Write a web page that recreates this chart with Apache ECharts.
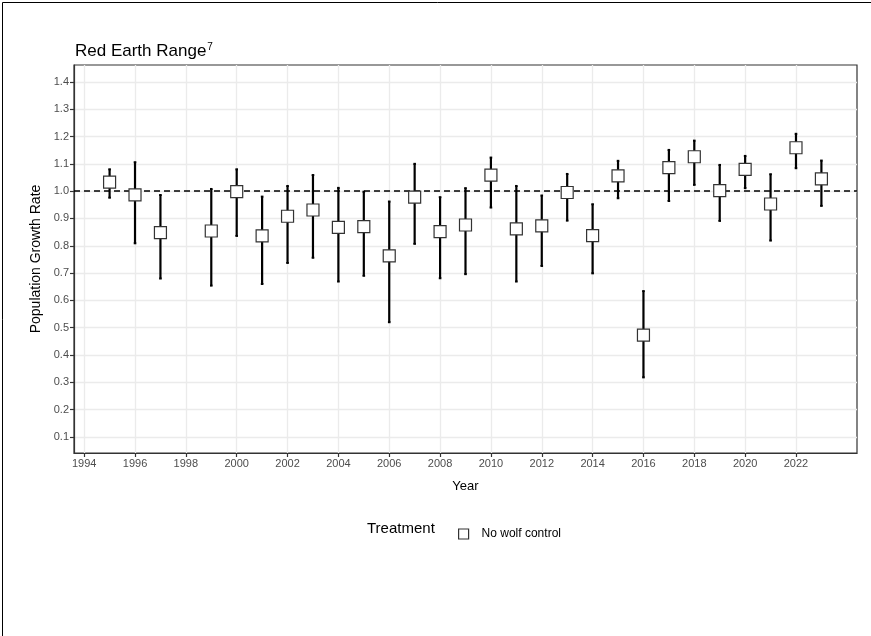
<!DOCTYPE html>
<html>
<head>
<meta charset="utf-8">
<script src="https://cdn.jsdelivr.net/npm/echarts@6/dist/echarts.min.js"></script>
<style>
  html, body { margin: 0; padding: 0; background: #fff; }
  #chart { width: 871px; height: 636px; }
</style>
</head>
<body>
<div id="chart"></div>
<script>
// Annual population growth rate (lambda) with confidence interval, Red Earth range
const years = [1995, 1996, 1997, 1999, 2000, 2001, 2002, 2003, 2004, 2005, 2006, 2007, 2008, 2009,
               2010, 2011, 2012, 2013, 2014, 2015, 2016, 2017, 2018, 2019, 2020, 2021, 2022, 2023];
const growthRate = [1.033, 0.986, 0.848, 0.854, 0.998, 0.836, 0.908, 0.931, 0.867, 0.870, 0.763, 0.978, 0.852, 0.876,
                    1.059, 0.862, 0.873, 0.995, 0.837, 1.056, 0.473, 1.086, 1.126, 1.002, 1.080, 0.953, 1.159, 1.045];
const lowerCI = [0.976, 0.809, 0.680, 0.654, 0.836, 0.660, 0.737, 0.756, 0.669, 0.690, 0.520, 0.807, 0.681, 0.696,
                 0.940, 0.669, 0.726, 0.892, 0.699, 0.974, 0.318, 0.964, 1.023, 0.891, 1.011, 0.819, 1.084, 0.946];
const upperCI = [1.080, 1.106, 0.986, 1.008, 1.080, 0.980, 1.019, 1.059, 1.012, 0.998, 0.962, 1.100, 0.978, 1.011,
                 1.123, 1.019, 0.984, 1.063, 0.952, 1.111, 0.634, 1.151, 1.185, 1.096, 1.129, 1.062, 1.210, 1.112];
const xTicks = [1994, 1996, 1998, 2000, 2002, 2004, 2006, 2008, 2010, 2012, 2014, 2016, 2018, 2020, 2022];
const yTicks = [0.1, 0.2, 0.3, 0.4, 0.5, 0.6, 0.7, 0.8, 0.9, 1.0, 1.1, 1.2, 1.3, 1.4];
const seriesName = 'No wolf control';
const referenceRate = 1.0;

const pointData = years.map((y, i) => [y, growthRate[i]]);
const barData = years.map((y, i) => [y, lowerCI[i], upperCI[i]]);

const chart = echarts.init(document.getElementById('chart'), null, { renderer: 'canvas' });

const font = 'Liberation Sans, Arial, sans-serif';

chart.setOption({
  animation: false,
  backgroundColor: '#fff',
  textStyle: { fontFamily: font },
  title: {
    text: '{t|Red Earth Range}{s|7}',
    left: 70,
    top: 37,
    textStyle: {
      rich: {
        t: { fontSize: 17, fontWeight: 'normal', color: '#000', fontFamily: font },
        s: { fontSize: 10, fontWeight: 'normal', color: '#000', fontFamily: font, verticalAlign: 'top', padding: [0, 0, 8, 1] }
      }
    }
  },
  grid: {
    left: 74, right: 14, top: 65, bottom: 183,
    show: true, borderColor: '#333', borderWidth: 1.2, backgroundColor: '#fff'
  },
  legend: {
    data: [{ name: seriesName, icon: 'rect' }],
    left: 453, top: 523,
    itemWidth: 10, itemHeight: 10, itemGap: 10,
    textStyle: { fontSize: 12, color: '#000', fontFamily: font, padding: [0, 0, 0, 8] },
    itemStyle: { color: '#fff', borderColor: '#333', borderWidth: 1.2 }
  },
  graphic: [
    {
      type: 'text', left: 367, top: 521,
      style: { text: 'Treatment', fontSize: 15, fill: '#000', fontFamily: font }
    },
    {
      type: 'rect', left: 0, top: 0, silent: true,
      shape: { x: 0.5, y: 0.5, width: 870, height: 635 },
      style: { fill: 'none', stroke: '#000', lineWidth: 1 }
    }
  ],
  xAxis: {
    type: 'value',
    min: 1993.6, max: 2024.4,
    name: 'Year', nameLocation: 'middle', nameGap: 27,
    nameTextStyle: { fontSize: 13, color: '#000', fontFamily: font },
    axisLine: { show: true, lineStyle: { color: '#333', width: 1.2 } },
    axisTick: { show: true, length: 4, lineStyle: { color: '#333', width: 1.2 }, customValues: xTicks },
    axisLabel: { fontSize: 11, color: '#4d4d4d', margin: 5, customValues: xTicks, formatter: v => String(v) },
    splitLine: { show: true, lineStyle: { color: '#ebebeb', width: 1.3 } }
  },
  yAxis: {
    type: 'value',
    min: 0.041, max: 1.462,
    name: 'Population Growth Rate', nameLocation: 'middle', nameGap: 31,
    nameTextStyle: { fontSize: 14, color: '#000', fontFamily: font },
    axisLine: { show: true, lineStyle: { color: '#333', width: 1.2 } },
    axisTick: { show: true, length: 4, lineStyle: { color: '#333', width: 1.2 }, customValues: yTicks },
    axisLabel: { fontSize: 11, color: '#4d4d4d', margin: 5, customValues: yTicks, formatter: v => v.toFixed(1) },
    splitLine: { show: true, lineStyle: { color: '#ebebeb', width: 1.3 } }
  },
  series: [
    {
      type: 'custom',
      name: 'ci',
      data: barData,
      z: 2,
      silent: true,
      encode: { x: 0, y: [1, 2] },
      renderItem: function (params, api) {
        const x = api.value(0);
        const lo = api.coord([x, api.value(1)]);
        const hi = api.coord([x, api.value(2)]);
        return {
          type: 'group',
          children: [
            { type: 'line', shape: { x1: lo[0], y1: lo[1], x2: hi[0], y2: hi[1] },
              style: { stroke: '#000', lineWidth: 2.2 } },
            { type: 'line', shape: { x1: lo[0] - 1.3, y1: lo[1], x2: lo[0] + 1.3, y2: lo[1] },
              style: { stroke: '#000', lineWidth: 2 } },
            { type: 'line', shape: { x1: hi[0] - 1.3, y1: hi[1], x2: hi[0] + 1.3, y2: hi[1] },
              style: { stroke: '#000', lineWidth: 2 } }
          ]
        };
      }
    },
    {
      type: 'scatter',
      name: seriesName,
      data: pointData,
      symbol: 'rect',
      symbolSize: 12,
      z: 3,
      itemStyle: { color: '#fff', borderColor: '#333', borderWidth: 1.2, opacity: 1 },
      markLine: {
        silent: true,
        symbol: ['none', 'none'],
        label: { show: false },
        lineStyle: { color: '#000', type: [6, 4], width: 1.6 },
        data: [{ yAxis: referenceRate }],
        z: 1
      }
    }
  ]
});
</script>
</body>
</html>
